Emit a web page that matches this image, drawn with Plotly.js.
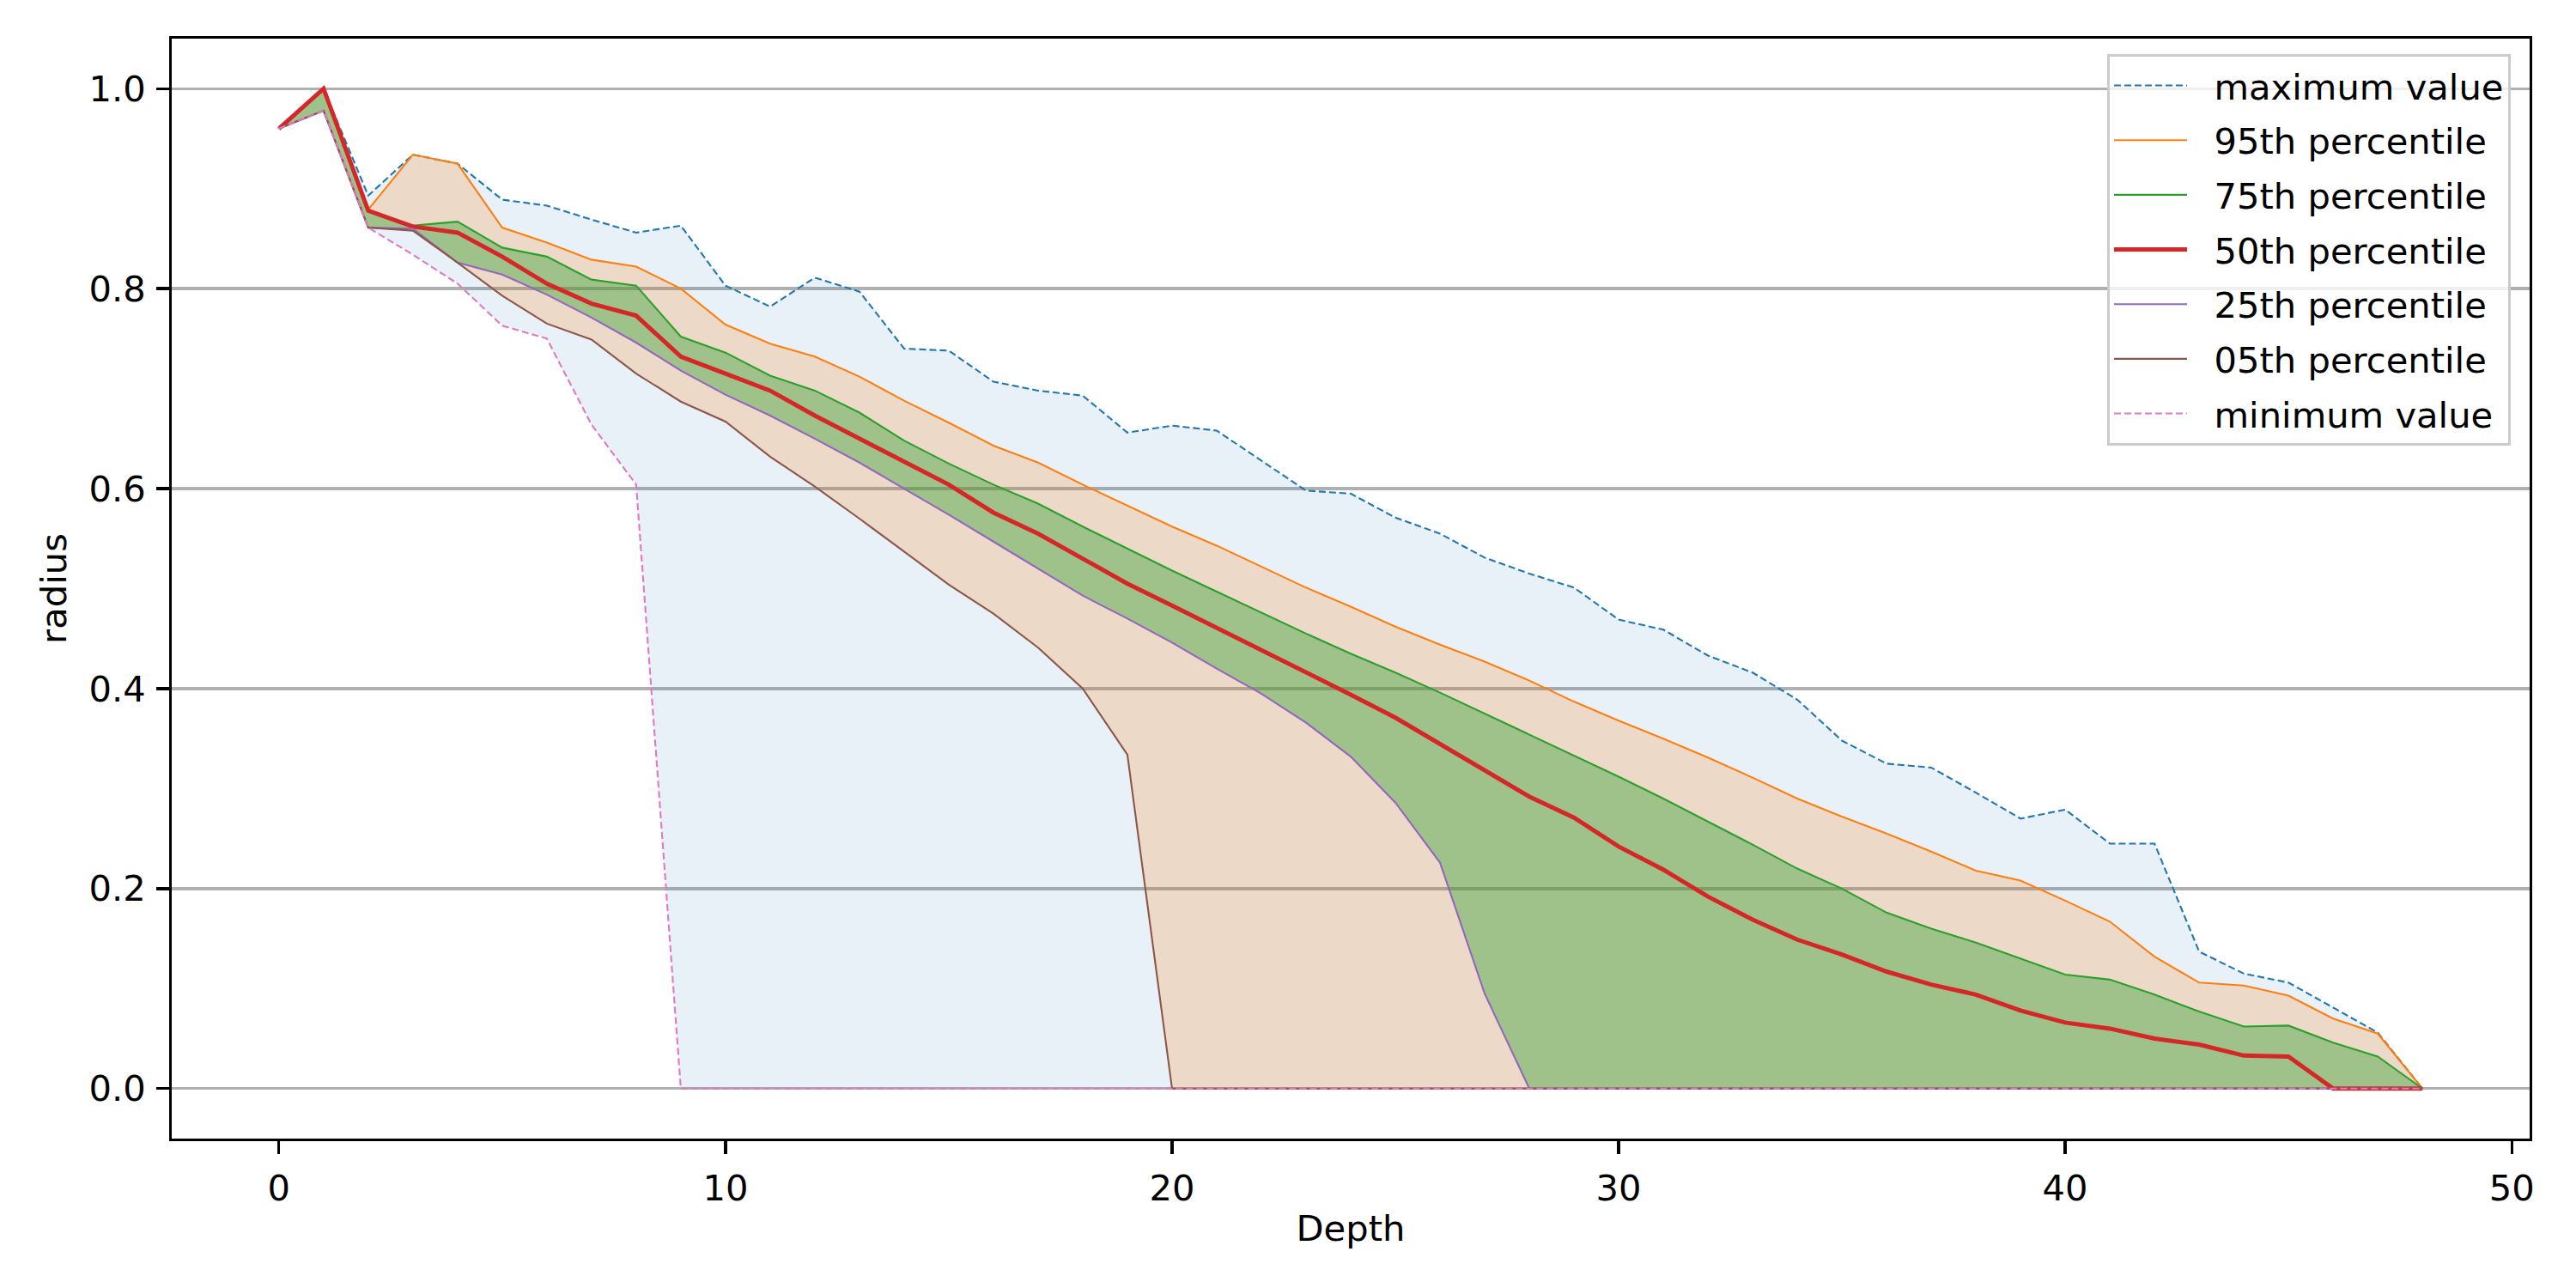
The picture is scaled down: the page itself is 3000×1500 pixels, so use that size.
<!DOCTYPE html>
<html>
<head>
<meta charset="utf-8">
<script src="https://cdn.plot.ly/plotly-3.0.1.min.js"></script>
<style>html,body{margin:0;padding:0;background:#fff;}#chart{width:3000px;height:1500px;}</style>
</head>
<body>
<div id="chart"></div>
<script>
const depth = Array.from({length: 49}, (_, i) => i);

const maxValue = [0.96, 1.0, 0.893, 0.934, 0.925, 0.889, 0.883, 0.869, 0.856, 0.863,
  0.803, 0.782, 0.811, 0.797, 0.740, 0.738, 0.707, 0.698, 0.693, 0.656,
  0.663, 0.658, 0.628, 0.598, 0.595, 0.571, 0.555, 0.531, 0.515, 0.501,
  0.469, 0.459, 0.433, 0.416, 0.389, 0.348, 0.325, 0.321, 0.296, 0.270,
  0.279, 0.245, 0.245, 0.137, 0.115, 0.106, 0.081, 0.056, 0];

const p95 = [0.96, 1.0, 0.879, 0.934, 0.925, 0.861, 0.846, 0.829, 0.822, 0.800,
  0.764, 0.745, 0.732, 0.712, 0.688, 0.666, 0.643, 0.626, 0.604, 0.583,
  0.562, 0.543, 0.522, 0.501, 0.482, 0.462, 0.444, 0.427, 0.408, 0.387,
  0.368, 0.350, 0.331, 0.311, 0.290, 0.272, 0.255, 0.237, 0.218, 0.208,
  0.188, 0.167, 0.132, 0.106, 0.103, 0.093, 0.070, 0.055, 0];

const p75 = [0.96, 1.0, 0.878, 0.863, 0.867, 0.841, 0.832, 0.809, 0.803, 0.752,
  0.736, 0.713, 0.698, 0.676, 0.648, 0.625, 0.604, 0.585, 0.562, 0.540,
  0.518, 0.497, 0.476, 0.455, 0.435, 0.416, 0.396, 0.375, 0.354, 0.333,
  0.312, 0.290, 0.267, 0.244, 0.220, 0.200, 0.176, 0.160, 0.146, 0.130,
  0.114, 0.109, 0.094, 0.077, 0.062, 0.063, 0.046, 0.032, 0];

const p50 = [0.96, 1.0, 0.878, 0.862, 0.856, 0.832, 0.805, 0.785, 0.773, 0.732,
  0.715, 0.698, 0.673, 0.650, 0.626, 0.604, 0.576, 0.555, 0.530, 0.505,
  0.483, 0.461, 0.439, 0.416, 0.394, 0.371, 0.345, 0.318, 0.292, 0.271,
  0.242, 0.219, 0.192, 0.169, 0.149, 0.134, 0.117, 0.104, 0.094, 0.078,
  0.066, 0.060, 0.050, 0.044, 0.033, 0.032, 0, 0, 0];

const p25 = [0.96, 0.978, 0.861, 0.860, 0.826, 0.814, 0.794, 0.771, 0.746, 0.718,
  0.694, 0.673, 0.650, 0.626, 0.600, 0.574, 0.547, 0.520, 0.493, 0.470,
  0.446, 0.420, 0.395, 0.366, 0.332, 0.286, 0.226, 0.095, 0, 0,
  0, 0, 0, 0, 0, 0, 0, 0, 0, 0,
  0, 0, 0, 0, 0, 0, 0, 0, 0];

const p05 = [0.96, 0.978, 0.861, 0.858, 0.826, 0.793, 0.765, 0.749, 0.715, 0.687,
  0.667, 0.632, 0.602, 0.570, 0.537, 0.504, 0.475, 0.441, 0.400, 0.334,
  0, 0, 0, 0, 0, 0, 0, 0, 0, 0,
  0, 0, 0, 0, 0, 0, 0, 0, 0, 0,
  0, 0, 0, 0, 0, 0, 0, 0, 0];

const minValue = [0.96, 0.978, 0.861, 0.834, 0.805, 0.763, 0.750, 0.664, 0.604, 0,
  0, 0, 0, 0, 0, 0, 0, 0, 0, 0,
  0, 0, 0, 0, 0, 0, 0, 0, 0, 0,
  0, 0, 0, 0, 0, 0, 0, 0, 0, 0,
  0, 0, 0, 0, 0, 0, 0, 0, 0];

const seriesNames = ['maximum value', '95th percentile', '75th percentile', '50th percentile',
  '25th percentile', '05th percentile', 'minimum value'];

const FS = 41.67;
const FONT = 'DejaVu Sans, sans-serif';
const PAD = '\u00a0\u00a0';

function band(lo, hi, color) {
  return [
    {x: depth, y: lo, mode: 'lines', line: {width: 0, color: 'rgba(0,0,0,0)'}, showlegend: false, hoverinfo: 'skip'},
    {x: depth, y: hi, mode: 'lines', line: {width: 0, color: 'rgba(0,0,0,0)'}, fill: 'tonexty', fillcolor: color, showlegend: false, hoverinfo: 'skip'}
  ];
}

function line(y, name, color, width, dash, idx) {
  return {x: depth, y: y, mode: 'lines', name: PAD + name, legendgroup: 'g' + idx,
    line: {color: color, width: width, dash: dash}};
}

const data = [
  ...band(minValue, maxValue, 'rgba(31,119,180,0.1)'),
  ...band(p05, p95, 'rgba(255,127,14,0.2)'),
  ...band(p25, p75, 'rgba(44,160,44,0.4)'),
  line(maxValue, seriesNames[0], '#1f77b4', 2.1, '8px,4px', 0),
  line(p95, seriesNames[1], '#ff7f0e', 2.1, 'solid', 1),
  line(p75, seriesNames[2], '#2ca02c', 2.1, 'solid', 2),
  line(p50, seriesNames[3], '#d62728', 5, 'solid', 3),
  line(p25, seriesNames[4], '#9467bd', 2.1, 'solid', 4),
  line(p05, seriesNames[5], '#8c564b', 2.1, 'solid', 5),
  line(minValue, seriesNames[6], '#e377c2', 2.1, '8px,4px', 6)
];

const axisCommon = {
  showline: true, mirror: true, linecolor: '#000', linewidth: 3.3,
  ticks: 'outside', ticklen: 14.6, tickwidth: 3.3, tickcolor: '#000',
  zeroline: false, tickfont: {family: FONT, size: FS, color: '#000'},
  ticklabelstandoff: 4
};

const layout = {
  width: 3000, height: 1500,
  margin: {l: 200, r: 54, t: 45, b: 174},
  paper_bgcolor: '#fff', plot_bgcolor: '#fff',
  font: {family: FONT, size: FS, color: '#000'},
  xaxis: Object.assign({}, axisCommon, {
    range: [-2.4, 50.4], tick0: 0, dtick: 10, showgrid: false,
    title: {text: 'Depth', font: {family: FONT, size: FS, color: '#000'}, standoff: 10}
  }),
  yaxis: Object.assign({}, axisCommon, {
    range: [-0.05, 1.05], tick0: 0, dtick: 0.2, tickformat: '.1f',
    showgrid: true, gridcolor: '#b0b0b0', gridwidth: 3.3,
    title: {text: 'radius', font: {family: FONT, size: FS, color: '#000'}, standoff: 14}
  }),
  showlegend: true,
  legend: {
    x: 0.992, xanchor: 'right', y: 0.986, yanchor: 'top',
    bgcolor: 'rgba(255,255,255,0.8)', bordercolor: '#cccccc', borderwidth: 3,
    font: {family: FONT, size: FS, color: '#000'},
    traceorder: 'grouped', tracegroupgap: 6.5, itemwidth: 85
  }
};

Plotly.newPlot('chart', data, layout, {staticPlot: true});
</script>
</body>
</html>
